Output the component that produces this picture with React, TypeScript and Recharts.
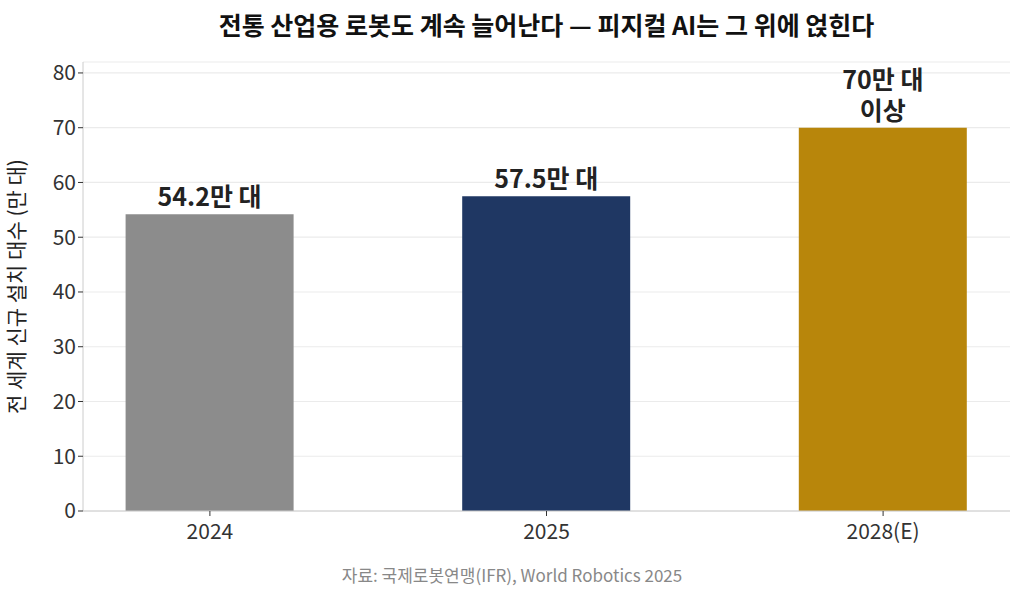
import { BarChart, Bar, XAxis, YAxis, CartesianGrid, LabelList, Cell } from "recharts";

const categories = ["2024", "2025", "2028(E)"];
const values = [54.2, 57.5, 70];
const valueLabels = ["54.2만 대", "57.5만 대", "70만 대\n이상"];
const barColors = ["#8c8c8c", "#1f3763", "#b8860b"];
const yTicks = [0, 10, 20, 30, 40, 50, 60, 70, 80];

const FONT = "'Noto Sans CJK KR', 'Noto Sans', sans-serif";

const data = categories.map((c, i) => ({
  idx: i,
  year: c,
  value: values[i],
  label: valueLabels[i],
}));

// two-line labels drawn as separate <text> so each line sits on its own baseline
function ValueLabel(props: any) {
  const { x, y, width, index } = props;
  const lines = valueLabels[index].split("\n");
  const cx = x + width / 2;
  const lh = 31;
  return (
    <g>
      {lines.map((l, i) => (
        <text
          key={i}
          x={cx}
          y={y - 8 - (lines.length - 1 - i) * lh}
          textAnchor="middle"
          fontFamily={FONT}
          fontWeight={700}
          fontSize={25}
          fill="#222"
        >
          {l}
        </text>
      ))}
    </g>
  );
}

export default function App() {
  return (
    <div
      style={{
        position: "fixed",
        top: 0,
        left: 0,
        width: 1024,
        height: 599,
        background: "#fff",
        fontFamily: FONT,
      }}
    >
      <div
        style={{
          position: "absolute",
          top: 7,
          left: 83,
          width: 927,
          textAlign: "center",
          fontSize: 25,
          fontWeight: 700,
          color: "#111",
          lineHeight: "34px",
        }}
      >
        전통 산업용 로봇도 계속 늘어난다 — 피지컬 AI는 그 위에 얹힌다
      </div>
      <BarChart
        width={1024}
        height={599}
        data={data}
        margin={{ top: 62, right: 14, bottom: 58, left: 0 }}
        barSize={168}
      >
        <CartesianGrid vertical={false} stroke="#ebebeb" strokeWidth={1.2} />
        <XAxis
          dataKey="idx"
          type="number"
          domain={[-0.377, 2.377]}
          ticks={[0, 1, 2]}
          tickFormatter={(v: number) => categories[v]}
          height={30}
          stroke="#cccccc"
          tickLine={{ stroke: "#333" }}
          tickSize={5}
          tick={{ fill: "#333", fontSize: 21, fontFamily: FONT, dy: 6 }}
          allowDataOverflow
        />
        <YAxis
          domain={[0, 82]}
          ticks={yTicks}
          width={83}
          stroke="#cccccc"
          tickLine={{ stroke: "#333" }}
          tickSize={5}
          tick={{ fill: "#333", fontSize: 21, fontFamily: FONT }}
          allowDataOverflow
          label={{
            value: "전 세계 신규 설치 대수 (만 대)",
            angle: -90,
            position: "insideLeft",
            dx: 12,
            style: { textAnchor: "middle", fill: "#222", fontSize: 21, fontFamily: FONT },
          }}
        />
        <Bar dataKey="value" isAnimationActive={false}>
          {data.map((d, i) => (
            <Cell key={d.year} fill={barColors[i]} />
          ))}
          <LabelList dataKey="label" content={<ValueLabel />} />
        </Bar>
      </BarChart>
      <div
        style={{
          position: "absolute",
          top: 563,
          left: 0,
          width: 1024,
          textAlign: "center",
          fontSize: 17,
          color: "#888",
          lineHeight: "24px",
        }}
      >
        자료: 국제로봇연맹(IFR), World Robotics 2025
      </div>
    </div>
  );
}
